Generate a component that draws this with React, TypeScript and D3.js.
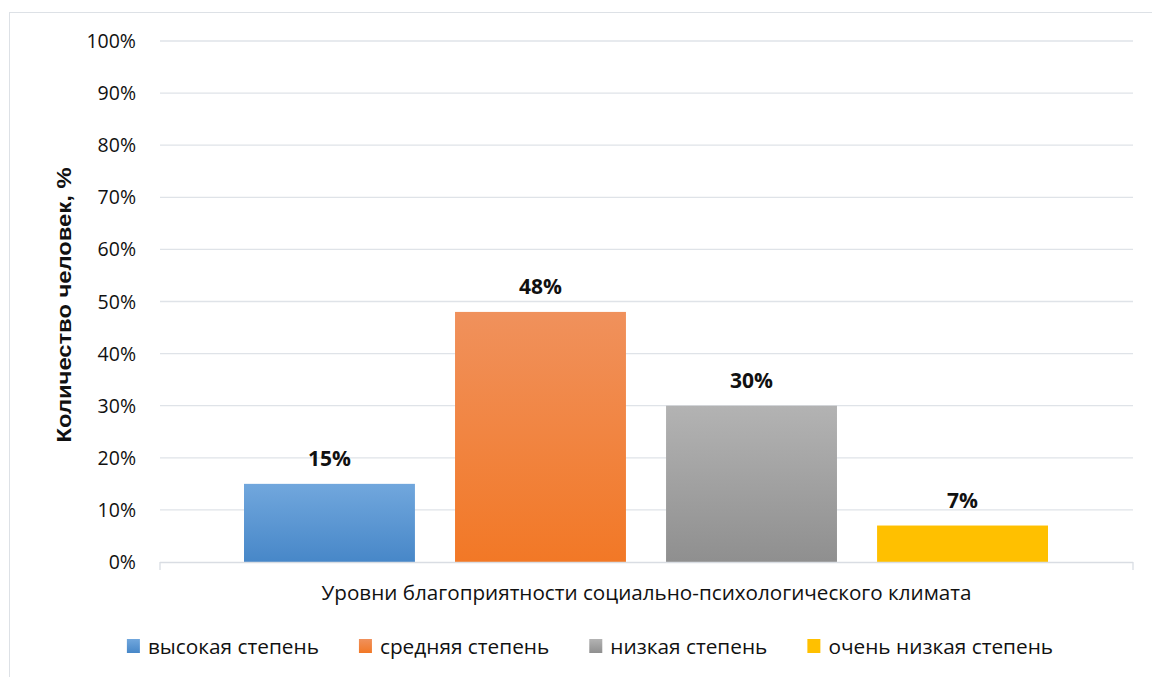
import React, { useEffect, useRef } from "react";
import * as d3 from "d3";

const seriesNames = ["высокая степень", "средняя степень", "низкая степень", "очень низкая степень"];
const seriesValues = [15, 48, 30, 7];
const yTicks = [0, 10, 20, 30, 40, 50, 60, 70, 80, 90, 100];
const xTitle = "Уровни благоприятности социально-психологического климата";
const yTitle = "Количество человек, %";
const gradients = [
  ["#71a7dd", "#4787c8"],
  ["#f0915c", "#f27826"],
  ["#b3b3b3", "#8f8f8f"],
  ["#ffc000", "#ffc000"],
];

export default function App() {
  const ref = useRef<SVGSVGElement>(null);
  useEffect(() => {
    const svg = d3.select(ref.current);
    svg.selectAll("*").remove();
    const W = 1152, H = 677;
    const left = 160, right = 1133, top = 41, bottom = 562;
    const font = "'Open Sans', sans-serif";

    const defs = svg.append("defs");
    gradients.forEach((g, i) => {
      const lg = defs.append("linearGradient").attr("id", "g" + i).attr("x1", 0).attr("y1", 0).attr("x2", 0).attr("y2", 1);
      lg.append("stop").attr("offset", "0%").attr("stop-color", g[0]);
      lg.append("stop").attr("offset", "100%").attr("stop-color", g[1]);
    });

    svg.append("rect").attr("width", W).attr("height", H).attr("fill", "#fff");
    svg.append("rect").attr("x", 9.5).attr("y", 12.5).attr("width", W + 10).attr("height", H).attr("fill", "none").attr("stroke", "#dde1e6");

    const y = d3.scaleLinear().domain([0, 100]).range([bottom, top]);
    const cat = d3.scaleBand<string>().domain(["c"]).range([left, right]);
    const x = d3.scaleBand<string>().domain(seriesNames).range([left + 84, right - 85]).paddingInner(0.19).paddingOuter(0);

    svg.append("g").selectAll("line").data(yTicks.filter((t) => t > 0)).join("line")
      .attr("x1", left).attr("x2", right).attr("y1", (d) => y(d)).attr("y2", (d) => y(d))
      .attr("stroke", "#dfe3e8").attr("stroke-width", 1.3);

    svg.append("g").selectAll("text").data(yTicks).join("text")
      .attr("x", 136).attr("y", (d) => y(d)).attr("dy", "0.36em").attr("text-anchor", "end")
      .attr("font-family", font).attr("font-size", 19.5).attr("fill", "#111")
      .text((d) => d + "%");

    svg.append("g").selectAll("rect").data(seriesValues).join("rect")
      .attr("x", (d, i) => x(seriesNames[i])!).attr("width", x.bandwidth())
      .attr("y", (d) => y(d)).attr("height", (d) => bottom - y(d))
      .attr("fill", (d, i) => `url(#g${i})`);

    svg.append("g").selectAll("text").data(seriesValues).join("text")
      .attr("x", (d, i) => x(seriesNames[i])! + x.bandwidth() / 2).attr("y", (d) => y(d) - 18)
      .attr("text-anchor", "middle").attr("font-family", font).attr("font-weight", "bold")
      .attr("font-size", 21).attr("fill", "#111").text((d) => d + "%");

    // x axis
    const cx0 = cat("c")!;
    svg.append("line").attr("x1", left).attr("x2", right).attr("y1", bottom + 0.5).attr("y2", bottom + 0.5).attr("stroke", "#d9dde3").attr("stroke-width", 1.3);
    [cx0, cx0 + cat.bandwidth()].forEach((xx) => {
      svg.append("line").attr("x1", xx).attr("x2", xx).attr("y1", bottom).attr("y2", bottom + 8).attr("stroke", "#d9dde3").attr("stroke-width", 1.3);
    });

    svg.append("text").attr("x", cx0 + cat.bandwidth() / 2).attr("y", 593).attr("dy", "0.36em")
      .attr("text-anchor", "middle").attr("font-family", font).attr("font-size", 19.5).attr("fill", "#111")
      .attr("textLength", 650).attr("lengthAdjust", "spacingAndGlyphs").text(xTitle);

    svg.append("text").attr("transform", `translate(63,305) rotate(-90)`)
      .attr("dy", "0.36em").attr("text-anchor", "middle").attr("font-family", "'Liberation Sans', Arial, sans-serif")
      .attr("font-weight", "bold").attr("font-size", 21).attr("fill", "#111")
      .attr("textLength", 275).attr("lengthAdjust", "spacingAndGlyphs").text(yTitle);

    // legend: measure text, lay out sequentially, center
    const lgRoot = svg.append("g");
    const items = lgRoot.selectAll("g").data(seriesNames).join("g");
    items.append("rect").attr("x", 0).attr("y", -7).attr("width", 13).attr("height", 14).attr("fill", (d, i) => `url(#g${i})`);
    const texts = items.append("text").attr("x", 21).attr("dy", "0.36em").attr("font-family", font).attr("font-size", 20.8)
      .attr("fill", "#111").text((d) => d);
    let cur = 0;
    const offs: number[] = [];
    texts.each(function () {
      offs.push(cur);
      cur += 21 + (this as SVGTextElement).getComputedTextLength() + 40;
    });
    const total = cur - 40;
    const start = 590 - total / 2;
    items.attr("transform", (d, i) => `translate(${start + offs[i]},646)`);
  }, []);
  return (
    <svg ref={ref} width={1152} height={677} style={{ position: "absolute", left: 0, top: 0 }} />
  );
}
